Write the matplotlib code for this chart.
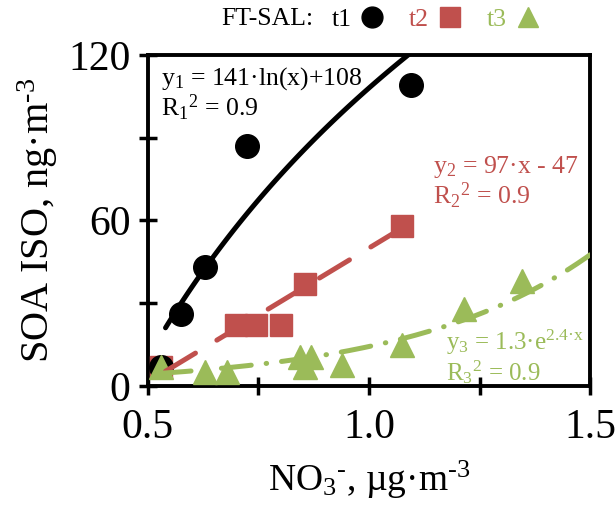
import numpy as np
import matplotlib
matplotlib.use("Agg")
import matplotlib.pyplot as plt
from matplotlib.lines import Line2D

plt.rcParams['font.family'] = ['Liberation Serif', 'DejaVu Serif']
plt.rcParams['mathtext.fontset'] = 'custom'
plt.rcParams['mathtext.rm'] = 'Liberation Serif'
plt.rcParams['mathtext.it'] = 'Liberation Serif'

# data
t1_x = [0.53, 0.575, 0.63, 0.725, 1.095]
t1_y = [7, 26, 43, 87, 109]
t2_x = [0.53, 0.70, 0.745, 0.80, 0.855, 1.075]
t2_y = [7, 22, 22, 22, 37, 58]
t3_x = [0.53, 0.63, 0.68, 0.845, 0.855, 0.87, 0.94, 1.075, 1.215, 1.345]
t3_y = [7, 5, 5, 10.5, 7, 10.5, 7.5, 15, 28, 38]

# fit coefficients (from the equations on the chart)
fit1 = (141, 108)      # y = a*ln(x) + b
fit2 = (97, -47)       # y = a*x + b
fit3 = (1.3, 2.4)      # y = a*exp(b*x)

red = '#C0504D'
green = '#9BBB59'

fig = plt.figure(figsize=(6.16, 5.08), dpi=100)
ax = fig.add_axes([0.240, 0.240, 0.718, 0.652])

ax.plot(t2_x, t2_y, 's', color=red, ms=16, zorder=3)
ax.plot(t1_x, t1_y, 'o', color='black', ms=17, zorder=4)
ax.plot(t3_x, t3_y, '^', color=green, ms=17, zorder=5)

x1 = np.linspace(0.54, 1.10, 100)
ax.plot(x1, fit1[0] * np.log(x1) + fit1[1], '-', color='black', lw=3.6,
        solid_capstyle='round', zorder=6)
x2 = np.linspace(0.54, 1.07, 100)
ax.plot(x2, fit2[0] * x2 + fit2[1], color=red, lw=3.6, dashes=(7, 5),
        dash_capstyle='round', zorder=6)
x3 = np.linspace(0.53, 1.5, 200)
ax.plot(x3, fit3[0] * np.exp(fit3[1] * x3), color=green, lw=3.6,
        dashes=(6, 3, 0.1, 3), dash_capstyle='round', zorder=6)

ax.set_xlim(0.5, 1.5)
ax.set_ylim(0, 120)
ax.set_xticks([0.5, 0.75, 1.0, 1.25, 1.5])
ax.set_xticklabels(['0.5', '', '1.0', '', '1.5'])
ax.set_yticks([0, 30, 60, 90, 120])
ax.set_yticklabels(['0', '', '60', '', '120'])
ax.tick_params(direction='inout', length=13, width=2.5, labelsize=30)
ax.tick_params(axis='x', pad=10)
ax.tick_params(axis='y', pad=6)
for s in ax.spines.values():
    s.set_linewidth(2.8)

ax.set_xlabel(r'NO$_3$$^{\text{-}}$, µg·m$^{\text{-3}}$', fontsize=27, labelpad=8)
ax.set_ylabel(r'SOA ISO, ng·m$^{\text{-3}}$', fontsize=29, labelpad=6)

ax.text(0.03, 0.97, r'y$_1$ = 141·ln(x)+108' + '\n' + r'R$_1$$^2$ = 0.9',
        transform=ax.transAxes, fontsize=18.5, va='top', ha='left',
        linespacing=1.05, zorder=7)
ax.text(0.645, 0.70, r'y$_2$ = 97·x - 47' + '\n' + r'R$_2$$^2$ = 0.9',
        transform=ax.transAxes, fontsize=18.5, va='top', ha='left',
        color=red, linespacing=1.05, zorder=7)
ax.text(0.675, 0.175, r'y$_3$ = 1.3·e$^{2.4·x}$' + '\n' + r'R$_3$$^2$ = 0.9',
        transform=ax.transAxes, fontsize=18, va='top', ha='left',
        color=green, linespacing=1.05, zorder=7)

fig.text(0.36, 0.962, 'FT-SAL:', fontsize=18.5, ha='left', va='center')
handles = [Line2D([], [], ls='', marker='o', color='black', ms=15),
           Line2D([], [], ls='', marker='s', color=red, ms=14),
           Line2D([], [], ls='', marker='^', color=green, ms=15)]
fig.legend(handles, ['t1', 't2', 't3'], loc='center left',
           bbox_to_anchor=(0.538, 0.962), ncol=3, frameon=False,
           markerfirst=False, fontsize=18.5, handletextpad=0.35,
           columnspacing=1.0, handlelength=0.9,
           labelcolor=['black', red, green], borderpad=0, borderaxespad=0)

fig.savefig('out.png', dpi=100)
